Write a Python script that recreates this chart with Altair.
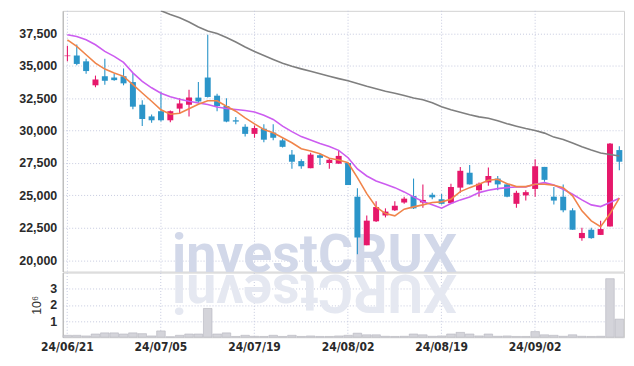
import altair as alt
import pandas as pd

dates = [
    "24/06/21", "24/06/24", "24/06/25", "24/06/26", "24/06/27", "24/06/28",
    "24/07/01", "24/07/02", "24/07/03", "24/07/04", "24/07/05",
    "24/07/08", "24/07/09", "24/07/10", "24/07/11", "24/07/12",
    "24/07/15", "24/07/16", "24/07/17", "24/07/18", "24/07/19",
    "24/07/22", "24/07/23", "24/07/24", "24/07/25", "24/07/26",
    "24/07/29", "24/07/30", "24/07/31", "24/08/01", "24/08/02",
    "24/08/05", "24/08/06", "24/08/07", "24/08/08", "24/08/09",
    "24/08/12", "24/08/13", "24/08/14", "24/08/16", "24/08/19",
    "24/08/20", "24/08/21", "24/08/22", "24/08/23",
    "24/08/26", "24/08/27", "24/08/28", "24/08/29", "24/08/30",
    "24/09/02", "24/09/03", "24/09/04", "24/09/05", "24/09/06",
    "24/09/09", "24/09/10", "24/09/11", "24/09/12", "24/09/13",
]
opens = [35750, 35800, 35350, 33500, 34200, 34100, 34200, 33750, 32000, 31100,
         31500, 30800, 31700, 32000, 32550, 34100, 32700, 31900, 30800, 30300,
         29750, 30150, 29850, 29250, 28150, 27650, 27100, 28100, 27500, 27450,
         27500, 24900, 21150, 23000, 23450, 23850, 24450, 24950, 24450, 25050,
         24700, 24400, 25600, 26750, 25400, 26000, 26300, 25850, 24350, 25000,
         25500, 27200, 24900, 24900, 23850, 21700, 22350, 21950, 22600, 28500]
highs = [36550, 36650, 35550, 34250, 35550, 34400, 34800, 34450, 32350, 31250,
         33000, 31550, 32500, 33150, 33750, 37400, 32850, 32500, 31050, 30500,
         30400, 30500, 30500, 29400, 28500, 27800, 28300, 28200, 27850, 28450,
         27500, 25550, 23450, 24550, 24000, 24550, 24900, 26300, 25850, 25200,
         25100, 25900, 27200, 27350, 26000, 27150, 26500, 25950, 25350, 25400,
         27800, 27200, 25650, 25850, 24000, 22500, 22500, 23050, 29050, 28800]
lows = [35350, 35050, 34400, 33350, 33550, 33850, 33500, 31650, 30350, 30600,
        30700, 30650, 31300, 31100, 32150, 32550, 31500, 30650, 30500, 29550,
        29450, 29100, 29250, 28700, 27050, 27050, 27100, 27350, 27050, 27450,
        25800, 20450, 21150, 22950, 23300, 23800, 24350, 23950, 24050, 24700,
        24300, 24350, 25200, 25850, 24900, 25750, 25400, 24850, 24050, 24600,
        24900, 26050, 24300, 23700, 22350, 21500, 21650, 21950, 22600, 26950]
closes = [35800, 35150, 34600, 33950, 33850, 33900, 33650, 31850, 30900, 30800,
          30800, 31500, 32100, 32550, 32250, 32600, 31900, 30700, 30700, 29750,
          30200, 29300, 29450, 28750, 27600, 27250, 28150, 27900, 27750, 28050,
          25800, 21750, 23050, 24100, 23750, 24200, 24750, 24000, 24650, 24850,
          24350, 25650, 26900, 25850, 25900, 26500, 25850, 24900, 25200, 25250,
          27250, 26200, 24600, 23850, 22350, 22100, 21700, 22400, 29000, 27600]
volumes = [120000, 120000, 80000, 200000, 270000, 270000, 200000, 270000, 220000, 80000,
           390000, 30000, 120000, 200000, 200000, 1780000, 200000, 270000, 50000, 120000,
           60000, 50000, 120000, 50000, 120000, 50000, 80000, 50000, 50000, 80000,
           120000, 250000, 150000, 150000, 60000, 50000, 60000, 200000, 150000, 60000,
           80000, 200000, 300000, 200000, 80000, 200000, 60000, 80000, 50000, 50000,
           350000, 150000, 120000, 60000, 150000, 60000, 50000, 60000, 3620000, 1120000]
ma_short = [37015, 36500, 35861, 35215, 34754, 34446, 34192, 33554, 32908, 32269,
            31615, 31269, 31346, 31692, 32038, 32308, 32308, 31885, 31500, 30985,
            30523, 30092, 29831, 29446, 29062, 28600, 28423, 28215, 27862, 27731,
            27523, 26369, 25138, 24115, 23600, 23423, 23939, 24115, 24269, 24446,
            24500, 24708, 25292, 25600, 25862, 26169, 26246, 25908, 25677, 25677,
            25862, 25862, 25785, 25600, 24962, 23808, 23038, 22577, 23577, 24785]
ma_mid = [37400, 37269, 37015, 36631, 36115, 35731, 35269, 34461, 33808, 33308,
          32885, 32615, 32423, 32269, 32138, 32015, 31831, 31708, 31631, 31554,
          31446, 31192, 30862, 30346, 29923, 29539, 29269, 29000, 28769, 28477,
          27908, 27038, 26500, 26115, 25862, 25600, 25269, 24885, 24523, 24269,
          24015, 24369, 24654, 24885, 25215, 25400, 25523, 25600, 25654, 25654,
          25862, 25985, 25808, 25477, 25092, 24654, 24269, 24138, 24446, 24785]
ma_long = [None, None, None, None, None, None, None, None, None, None,
           39254, 38962, 38715, 38385, 38000, 37692, 37500, 37192, 36846, 36462,
           36115, 35808, 35500, 35208, 34977, 34769, 34577, 34385, 34192, 34015,
           33846, 33638, 33423, 33231, 33038, 32885, 32708, 32523, 32385, 32154,
           31846, 31615, 31423, 31231, 31062, 30962, 30769, 30538, 30346, 30169,
           30015, 29808, 29500, 29323, 29038, 28754, 28500, 28269, 28154, 28038]
price_ticks = [20000, 22500, 25000, 27500, 30000, 32500, 35000, 37500]
date_ticks = ["24/06/21", "24/07/05", "24/07/19", "24/08/02", "24/08/19", "24/09/02"]
volume_ticks = [1000000, 2000000, 3000000]
watermark = ["investCRUX"]
watermark_reflection = ["XURCtsevni"]

UP = "#e6186b"
DOWN = "#2b95c9"
GRID = "#c6cadf"
FONT = "Liberation Sans"

df = pd.DataFrame({
    "date": dates, "open": opens, "high": highs, "low": lows, "close": closes,
    "volume": volumes, "ma_short": ma_short, "ma_mid": ma_mid, "ma_long": ma_long,
})
ticks_df = pd.DataFrame({"date": date_ticks})

x_scale = alt.Scale(domain=dates, paddingInner=0, paddingOuter=0)
x_top = alt.X("date:O", scale=x_scale, axis=None)
y_scale = alt.Scale(domain=[19120, 39250], nice=False, zero=False)
y_axis = alt.Axis(values=price_ticks, format=",.0f", title=None, ticks=False, labelPadding=6,
                  labelFont=FONT, labelFontSize=12.5, labelFontWeight="bold",
                  labelColor="#2a2a2a",
                  domainColor="#b0b0b0", gridColor=GRID, gridDash=[1, 2])


def py(field):
    return alt.Y(field, type="quantitative", scale=y_scale, axis=y_axis)


candle_color = alt.condition("datum.close >= datum.open", alt.value(UP), alt.value(DOWN))

base = alt.Chart(df)

vgrid = alt.Chart(ticks_df).mark_rule(color=GRID, strokeDash=[1, 2], strokeWidth=1).encode(
    x=x_top)
wm = alt.Chart(pd.DataFrame({"t": watermark})).mark_text(
    font="Roboto", fontSize=54, fontWeight="bold", color="#d2d8e9", align="center",
    baseline="alphabetic"
).encode(text="t:N", x=alt.value(253), y=alt.value(262))

wicks = base.mark_rule(strokeWidth=1.1).encode(
    x=x_top, y=py("low"), y2="high:Q", color=candle_color)
bodies = base.mark_bar(size=6).encode(
    x=x_top, y=py("open"), y2="close:Q", color=candle_color)
line_long = base.mark_line(color="#7f7f7f", strokeWidth=1.6, clip=True).encode(
    x=x_top, y=py("ma_long"))
line_mid = base.mark_line(color="#cc5cf0", strokeWidth=1.6, clip=True).encode(
    x=x_top, y=py("ma_mid"))
line_short = base.mark_line(color="#f0844a", strokeWidth=1.6, clip=True).encode(
    x=x_top, y=py("ma_short"))

price = alt.layer(vgrid, wm, wicks, bodies, line_long, line_mid, line_short).properties(
    width=564, height=262)

x_bottom = alt.X("date:O", scale=x_scale,
                 axis=alt.Axis(values=date_ticks, labelAngle=0, ticks=False, domain=False,
                               grid=True, gridColor=GRID, gridDash=[1, 2], title=None,
                               labelPadding=4, labelFont="DejaVu Sans Condensed, Roboto",
                               labelFontSize=12, labelFontWeight="bold",
                               labelColor="#2a2a2a"))
wm2 = alt.Chart(pd.DataFrame({"t": watermark_reflection})).mark_text(
    font="Roboto", fontSize=54, fontWeight="bold", color="#e5e8f1", align="center",
    baseline="alphabetic", angle=180
).encode(text="t:N", x=alt.value(253), y=alt.value(2))
vol_bars = base.mark_bar(size=8.6, fill="#d4d4da", stroke="#b5b5bd", strokeWidth=0.6).encode(
    x=x_bottom,
    y=alt.Y("volume:Q", scale=alt.Scale(domain=[0, 4000000], nice=False),
            axis=alt.Axis(values=volume_ticks, labelExpr="datum.value / 1000000",
                          title="10⁶", titleFontWeight="normal", titleFontSize=12.5,
                          titleColor="#333", titlePadding=6, ticks=False, labelPadding=6,
                          labelFont=FONT, labelFontSize=12.5, labelFontWeight="bold",
                          labelColor="#2a2a2a",
                          domainColor="#b0b0b0", gridColor=GRID, gridDash=[1, 2])))
volume = alt.layer(wm2, vol_bars).properties(width=564, height=65)

chart = alt.vconcat(price, volume, spacing=1, bounds="flush").resolve_scale(
    y="independent"
).properties(
    padding={"left": 10, "top": 1, "right": 1, "bottom": 0}
).configure_view(stroke="#d2d2d2").configure_axis(titleFont=FONT)

chart.save("out.html", embed_options={"renderer": "svg", "actions": False})
